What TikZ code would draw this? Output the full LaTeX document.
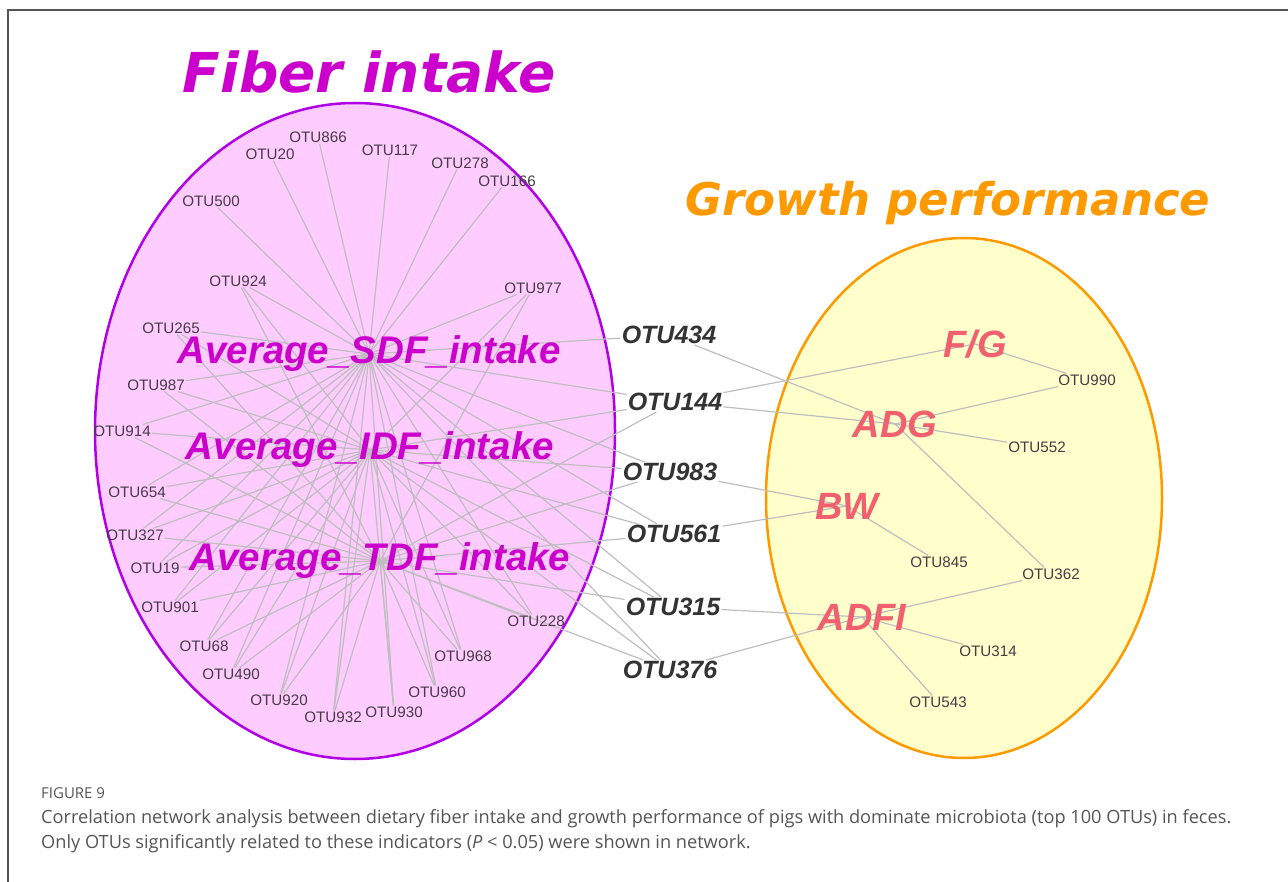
\documentclass[tikz,border=0pt]{standalone}
\usepackage{fontspec}
\setmainfont{Liberation Sans}
\newfontfamily\titlefont{DejaVu Sans}
\newfontfamily\capfont{Open Sans}
\usepackage{tikz}

\definecolor{fiberfill}{RGB}{255,204,255}
\definecolor{fiberline}{RGB}{178,0,230}
\definecolor{fibertext}{RGB}{204,0,204}
\definecolor{growthfill}{RGB}{255,255,204}
\definecolor{growthline}{RGB}{255,153,0}
\definecolor{growthtext}{RGB}{240,96,110}
\definecolor{linkgray}{RGB}{190,190,190}
\definecolor{otugray}{RGB}{70,60,70}
\definecolor{capgray}{RGB}{85,85,85}

\pgfdeclarelayer{ovals}
\pgfdeclarelayer{links}
\pgfsetlayers{ovals,links,main}

\tikzset{
  otu/.style={font=\fontsize{15.2}{17}\selectfont, text=otugray, inner sep=1pt},
  midotu/.style={font=\fontsize{25}{28}\bfseries\itshape\selectfont, text=black!80, inner sep=1pt},
  fiberhub/.style={font=\fontsize{38.5}{42}\bfseries\itshape\selectfont, text=fibertext, inner sep=0pt},
  growthhub/.style={font=\fontsize{38}{42}\bfseries\itshape\selectfont, text=growthtext, inner sep=0pt},
  link/.style={draw=linkgray, line width=1.2pt},
  captext/.style={anchor=base west, inner sep=0pt, text=capgray, font=\capfont\fontsize{18.2}{21}\selectfont},
}

\begin{document}
\begin{tikzpicture}[x=1pt,y=-1pt]
    \useasboundingbox (0,0) rectangle (1288,882);
    % Frame
    \draw[line width=1.5pt, capgray] (8,882) -- (8,10) -- (1288,10);

    % Titles
    \node[anchor=base, text=fibertext, font=\titlefont\fontsize{55}{60}\bfseries\itshape\selectfont] (fibertitle) at (369,93) {Fiber intake};
    \node[anchor=base, text=growthline, font=\titlefont\fontsize{45}{50}\bfseries\itshape\selectfont] (growthtitle) at (948,216) {Growth performance};

    % Ovals
    \begin{pgfonlayer}{ovals}
        \filldraw[fill=fiberfill, draw=fiberline, line width=2.5pt] (355,431) ellipse [x radius=260, y radius=328];
        \filldraw[fill=growthfill, draw=growthline, line width=2.5pt] (964,498) ellipse [x radius=198, y radius=260];
    \end{pgfonlayer}

    % Fiber hubs
    \node[fiberhub] (sdf) at (369,354) {Average\_SDF\_intake};
    \node[fiberhub] (idf) at (370,450) {Average\_IDF\_intake};
    \node[fiberhub] (tdf) at (380,561) {Average\_TDF\_intake};

    % Growth hubs
    \node[growthhub] (fg) at (975,344) {F/G};
    \node[growthhub] (adg) at (895,424) {ADG};
    \node[growthhub] (bw) at (847,506) {BW};
    \node[growthhub] (adfi) at (862,617) {ADFI};

    % OTUs inside the fiber oval
    \node[otu] (otu866) at (318,137) {OTU866};
    \node[otu] (otu20) at (270,154) {OTU20};
    \node[otu] (otu117) at (390,150) {OTU117};
    \node[otu] (otu278) at (460,163) {OTU278};
    \node[otu] (otu166) at (507,181) {OTU166};
    \node[otu] (otu500) at (211,201) {OTU500};
    \node[otu] (otu924) at (238,281) {OTU924};
    \node[otu] (otu977) at (533,288) {OTU977};
    \node[otu] (otu265) at (171,328) {OTU265};
    \node[otu] (otu987) at (156,385) {OTU987};
    \node[otu] (otu914) at (122,431) {OTU914};
    \node[otu] (otu654) at (137,492) {OTU654};
    \node[otu] (otu327) at (135,535) {OTU327};
    \node[otu] (otu19) at (155,568) {OTU19};
    \node[otu] (otu901) at (170,607) {OTU901};
    \node[otu] (otu68) at (204,646) {OTU68};
    \node[otu] (otu490) at (231,674) {OTU490};
    \node[otu] (otu920) at (279,700) {OTU920};
    \node[otu] (otu932) at (333,717) {OTU932};
    \node[otu] (otu930) at (394,712) {OTU930};
    \node[otu] (otu960) at (437,692) {OTU960};
    \node[otu] (otu968) at (463,656) {OTU968};
    \node[otu] (otu228) at (536,621) {OTU228};

    % OTUs between the ovals
    \node[midotu] (otu434) at (669,335) {OTU434};
    \node[midotu] (otu144) at (675,402) {OTU144};
    \node[midotu] (otu983) at (670,472) {OTU983};
    \node[midotu] (otu561) at (674,534) {OTU561};
    \node[midotu] (otu315) at (673,607) {OTU315};
    \node[midotu] (otu376) at (670,670) {OTU376};

    % OTUs inside the growth oval
    \node[otu] (otu990) at (1087,380) {OTU990};
    \node[otu] (otu552) at (1037,447) {OTU552};
    \node[otu] (otu845) at (939,562) {OTU845};
    \node[otu] (otu362) at (1051,574) {OTU362};
    \node[otu] (otu314) at (988,651) {OTU314};
    \node[otu] (otu543) at (938,702) {OTU543};

    % Links
    \begin{pgfonlayer}{links}
        \foreach \o in {866,20,117,278,166,500,434}
            \draw[link] (sdf.center) -- (otu\o);
        \foreach \o in {924,977,265,987,914,654,327,19,901,68,490,920,932,930,960,968,228,144,983,561,315,376}
            \foreach \h in {sdf,idf,tdf}
                \draw[link] (\h.center) -- (otu\o);
        \draw[link] (adg.center) -- (otu434);
        \draw[link] (fg.center) -- (otu144);
        \draw[link] (adg.center) -- (otu144);
        \draw[link] (bw.center) -- (otu983);
        \draw[link] (bw.center) -- (otu561);
        \draw[link] (adfi.center) -- (otu315);
        \draw[link] (adfi.center) -- (otu376);
        \draw[link] (fg.center) -- (otu990);
        \draw[link] (adg.center) -- (otu990);
        \draw[link] (adg.center) -- (otu552);
        \draw[link] (adg.center) -- (otu362);
        \draw[link] (bw.center) -- (otu845);
        \draw[link] (adfi.center) -- (otu362);
        \draw[link] (adfi.center) -- (otu314);
        \draw[link] (adfi.center) -- (otu543);
    \end{pgfonlayer}

    % Caption
    \node[captext, font=\capfont\fontsize{15}{17}\selectfont] (capnum) at (41,798) {FIGURE 9};
    \node[captext] (capone) at (41,823) {Correlation network analysis between dietary fiber intake and growth performance of pigs with dominate microbiota (top 100 OTUs) in feces.};
    \node[captext] (captwo) at (41,848) {Only OTUs significantly related to these indicators (\textit{P} < 0.05) were shown in network.};
\end{tikzpicture}
\end{document}
